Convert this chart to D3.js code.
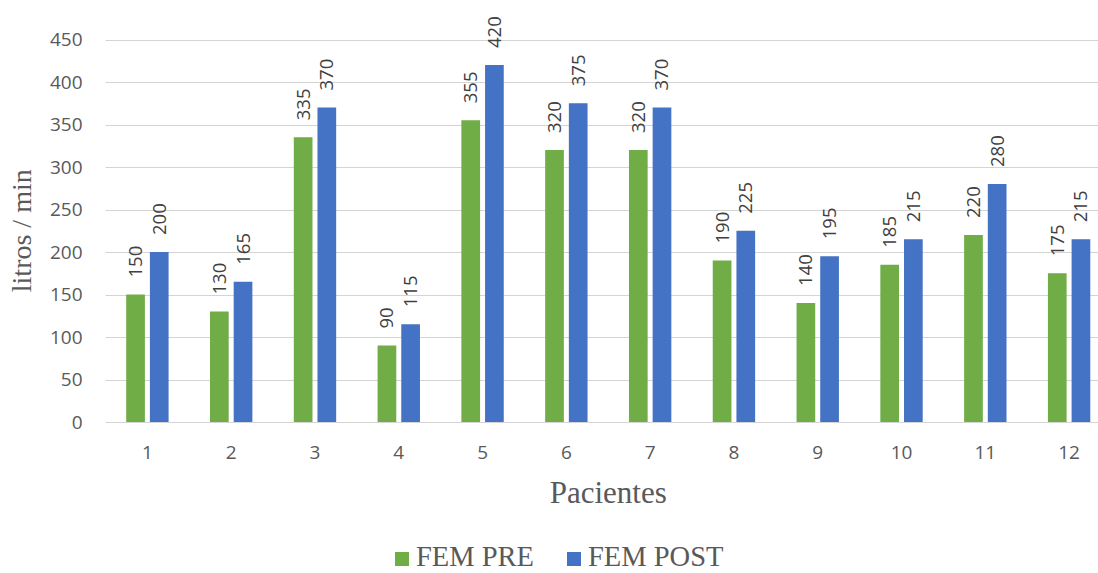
<!DOCTYPE html>
<html>
<head>
<meta charset="utf-8">
<script src="https://cdn.jsdelivr.net/npm/d3@7"></script>
<style>
  html, body { margin: 0; padding: 0; background: #ffffff; }
  svg { display: block; }
</style>
</head>
<body>
<svg id="chart" width="1098" height="573"></svg>
<script>
// Peak expiratory flow per patient, before and after
const pacientes = ["1", "2", "3", "4", "5", "6", "7", "8", "9", "10", "11", "12"];
const femPre  = [150, 130, 335, 90, 355, 320, 320, 190, 140, 185, 220, 175];
const femPost = [200, 165, 370, 115, 420, 375, 370, 225, 195, 215, 280, 215];
const seriesNames = ["FEM PRE", "FEM POST"];
const yTicks = [0, 50, 100, 150, 200, 250, 300, 350, 400, 450];

const colors = { "FEM PRE": "#70ad47", "FEM POST": "#4472c4" };
const textColor = "#595959";
const sansFont = "'Open Sans', 'Noto Sans', sans-serif";
const serifFont = "'Liberation Serif', 'Times New Roman', serif";

const svg = d3.select("#chart");

const plot = { left: 105.5, right: 1111, top: 39.5, bottom: 422 };

const x0 = d3.scaleBand().domain(pacientes).range([plot.left, plot.right]).padding(0);
const x1 = d3.scaleBand().domain(seriesNames).range([0, x0.bandwidth()])
  .paddingInner(0.211).paddingOuter(0.874);
const y = d3.scaleLinear().domain([0, 450]).range([plot.bottom, plot.top]);

// Horizontal gridlines
svg.append("g")
  .selectAll("line")
  .data(yTicks)
  .join("line")
  .attr("x1", plot.left)
  .attr("x2", plot.right)
  .attr("y1", d => Math.round(y(d)) + 0.5)
  .attr("y2", d => Math.round(y(d)) + 0.5)
  .attr("stroke", "#d4d4d4")
  .attr("stroke-width", 1.2);

// Y axis labels
const yAxis = d3.axisLeft(y).tickValues(yTicks).tickSize(0).tickPadding(0);
const yg = svg.append("g")
  .attr("transform", `translate(${plot.left - 23},0)`)
  .call(yAxis);
yg.select(".domain").remove();
yg.selectAll("text")
  .attr("fill", textColor)
  .style("font-family", sansFont)
  .style("font-size", "19px");

// X axis labels
const xAxis = d3.axisBottom(x0).tickSize(0).tickPadding(0);
const xg = svg.append("g")
  .attr("transform", `translate(0,${plot.bottom + 23})`)
  .call(xAxis);
xg.select(".domain").remove();
xg.selectAll("text")
  .attr("fill", textColor)
  .style("font-family", sansFont)
  .style("font-size", "19px");

// Rows of data: one entry per patient and series
const rows = [];
pacientes.forEach((p, i) => {
  rows.push({ p, s: "FEM PRE", v: femPre[i] });
  rows.push({ p, s: "FEM POST", v: femPost[i] });
});

// Bars
svg.append("g")
  .selectAll("rect")
  .data(rows)
  .join("rect")
  .attr("x", d => x0(d.p) + x1(d.s))
  .attr("width", x1.bandwidth())
  .attr("y", d => y(d.v))
  .attr("height", d => y(0) - y(d.v))
  .attr("fill", d => colors[d.s]);

// Value labels, rotated
svg.append("g")
  .selectAll("text")
  .data(rows)
  .join("text")
  .attr("transform", d => {
    const cx = x0(d.p) + x1(d.s) + x1.bandwidth() / 2;
    return `translate(${cx},${y(d.v) - 17}) rotate(-90)`;
  })
  .attr("dy", "0.35em")
  .attr("text-anchor", "start")
  .attr("fill", "#404040")
  .style("font-family", sansFont)
  .style("font-size", "18.5px")
  .text(d => d.v);

// Axis titles
svg.append("text")
  .attr("transform", `translate(31,${(plot.top + plot.bottom) / 2}) rotate(-90)`)
  .attr("text-anchor", "middle")
  .attr("fill", textColor)
  .style("font-family", serifFont)
  .style("font-size", "28px")
  .text("litros / min");

svg.append("text")
  .attr("x", (plot.left + plot.right) / 2)
  .attr("y", 503)
  .attr("text-anchor", "middle")
  .attr("fill", textColor)
  .style("font-family", serifFont)
  .style("font-size", "31px")
  .text("Pacientes");

// Legend
const legendItems = [
  { name: "FEM PRE", x: 395 },
  { name: "FEM POST", x: 567 }
];
const lg = svg.append("g");
legendItems.forEach(item => {
  lg.append("rect")
    .attr("x", item.x)
    .attr("y", 552)
    .attr("width", 14)
    .attr("height", 14)
    .attr("fill", colors[item.name]);
  lg.append("text")
    .attr("x", item.x + 21)
    .attr("y", 566)
    .attr("fill", textColor)
    .style("font-family", serifFont)
    .style("font-size", "28.5px")
    .text(item.name);
});
</script>
</body>
</html>
